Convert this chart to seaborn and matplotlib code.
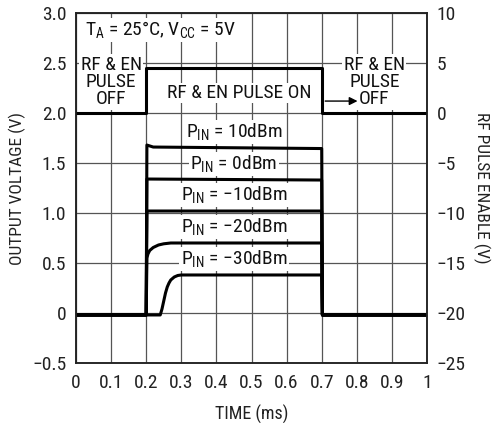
import numpy as np
import pandas as pd
import matplotlib
matplotlib.use("Agg")
import matplotlib.pyplot as plt
import seaborn as sns

# ---- data ----
# RF pulse enable (right axis, V)
en_time = [0.0, 0.2, 0.2, 0.7, 0.7, 1.0]
en_volt = [0.0, 0.0, 4.5, 4.5, 0.0, 0.0]

# output voltage traces (left axis, V)
p10_time = [0.0, 0.2, 0.202, 0.22, 0.7, 0.702, 1.0]
p10_volt = [-0.02, -0.02, 1.68, 1.66, 1.645, -0.02, -0.02]

p0_time = [0.0, 0.2, 0.202, 0.7, 0.702, 1.0]
p0_volt = [-0.02, -0.02, 1.34, 1.33, -0.02, -0.02]

m10_time = [0.0, 0.2, 0.202, 0.7, 0.702, 1.0]
m10_volt = [-0.02, -0.02, 1.02, 1.02, -0.02, -0.02]

m20_time = [0.0, 0.2, 0.202, 0.205, 0.21, 0.22, 0.235, 0.25, 0.27, 0.7, 0.702, 1.0]
m20_volt = [-0.02, -0.02, 0.55, 0.59, 0.625, 0.655, 0.68, 0.692, 0.70, 0.70, -0.02, -0.02]

m30_time = [0.0, 0.2, 0.24, 0.245, 0.25, 0.255, 0.26, 0.265, 0.27, 0.28, 0.29, 0.30, 0.7, 0.702, 1.0]
m30_volt = [-0.02, -0.02, -0.02, 0.04, 0.12, 0.2, 0.26, 0.3, 0.33, 0.36, 0.375, 0.38, 0.38, -0.02, -0.02]

traces = [
    ("10dBm", p10_time, p10_volt),
    ("0dBm", p0_time, p0_volt),
    ("-10dBm", m10_time, m10_volt),
    ("-20dBm", m20_time, m20_volt),
    ("-30dBm", m30_time, m30_volt),
]

# label text and placement
pin_labels = ["P$_\\mathregular{IN}$ = 10dBm", "P$_\\mathregular{IN}$ = 0dBm",
              "P$_\\mathregular{IN}$ = \u221210dBm", "P$_\\mathregular{IN}$ = \u221220dBm",
              "P$_\\mathregular{IN}$ = \u221230dBm"]
pin_label_y = [1.81, 1.49, 1.18, 0.86, 0.54]

x_ticks = [0, 0.1, 0.2, 0.3, 0.4, 0.5, 0.6, 0.7, 0.8, 0.9, 1.0]
x_tick_labels = ["0", "0.1", "0.2", "0.3", "0.4", "0.5", "0.6", "0.7", "0.8", "0.9", "1"]
y_ticks = [-0.5, 0, 0.5, 1.0, 1.5, 2.0, 2.5, 3.0]
y_tick_labels = ["\u22120.5", "0", "0.5", "1.0", "1.5", "2.0", "2.5", "3.0"]
y2_ticks = [-25, -20, -15, -10, -5, 0, 5, 10]
y2_tick_labels = ["\u221225", "\u221220", "\u221215", "\u221210", "\u22125", "0", "5", "10"]

# ---- styling ----
sns.set_style("white")
plt.rcParams['font.family'] = ['Roboto Condensed', 'DejaVu Sans']
plt.rcParams['mathtext.fontset'] = 'custom'
plt.rcParams['mathtext.rm'] = 'Roboto Condensed'

fig = plt.figure(figsize=(5.0, 4.23), dpi=100)
ax = fig.add_axes([0.152, 0.142, 0.702, 0.827])
ax2 = ax.twinx()

grid_col = "#555555"
ax.set_xlim(0, 1)
ax.set_ylim(-0.5, 3.0)
ax2.set_ylim(-25, 10)
ax.set_xticks(x_ticks)
ax.set_xticklabels(x_tick_labels)
ax.set_yticks(y_ticks)
ax.set_yticklabels(y_tick_labels)
ax2.set_yticks(y2_ticks)
ax2.set_yticklabels(y2_tick_labels)
ax.grid(True, color=grid_col, linewidth=0.9)
ax.set_axisbelow(True)
for a in (ax, ax2):
    a.tick_params(length=0, labelsize=14, pad=7, colors="#222222")
    for s in a.spines.values():
        s.set_color("#222222")
        s.set_linewidth(1.1)
ax.tick_params(axis="x", pad=8)

# traces
for name, t, v in traces:
    sns.lineplot(x=t, y=v, ax=ax, color="black", linewidth=2.2,
                 sort=False, estimator=None)
sns.lineplot(x=en_time, y=en_volt, ax=ax2, color="black", linewidth=2.2,
             sort=False, estimator=None)

box = dict(facecolor="white", edgecolor="none", pad=1.0)
tsize = 14
tcol = "#111111"

ax.text(0.025, 2.83, "T$_\\mathregular{A}$ = 25\u00b0C, V$_\\mathregular{CC}$ = 5V",
        fontsize=tsize, ha="left", va="center", bbox=box, color=tcol)
ax.text(0.1, 2.31, "RF & EN\nPULSE\nOFF", fontsize=tsize, ha="center", va="center",
        linespacing=0.95, bbox=box, color=tcol)
ax.text(0.465, 2.2, "RF & EN PULSE ON", fontsize=tsize, ha="center", va="center",
        bbox=box, color=tcol)
ax.text(0.85, 2.31, "RF & EN\nPULSE\nOFF", fontsize=tsize, ha="center", va="center",
        linespacing=0.95, bbox=box, color=tcol)
ax.annotate("", xy=(0.81, 2.12), xytext=(0.702, 2.12),
            arrowprops=dict(arrowstyle="-|>", color="black", lw=1.0,
                            mutation_scale=12))
for lab, yy in zip(pin_labels, pin_label_y):
    ax.text(0.45, yy, lab, fontsize=tsize, ha="center", va="center",
            bbox=box, color=tcol)

ax.set_xlabel("TIME (ms)", fontsize=13, labelpad=9, color="#222222")
ax.set_ylabel("OUTPUT VOLTAGE (V)", fontsize=12.5, labelpad=4, color="#222222")
ax2.set_ylabel("RF PULSE ENABLE (V)", fontsize=12.5, rotation=270, labelpad=18,
               color="#222222")

fig.savefig("out.png", dpi=100)
